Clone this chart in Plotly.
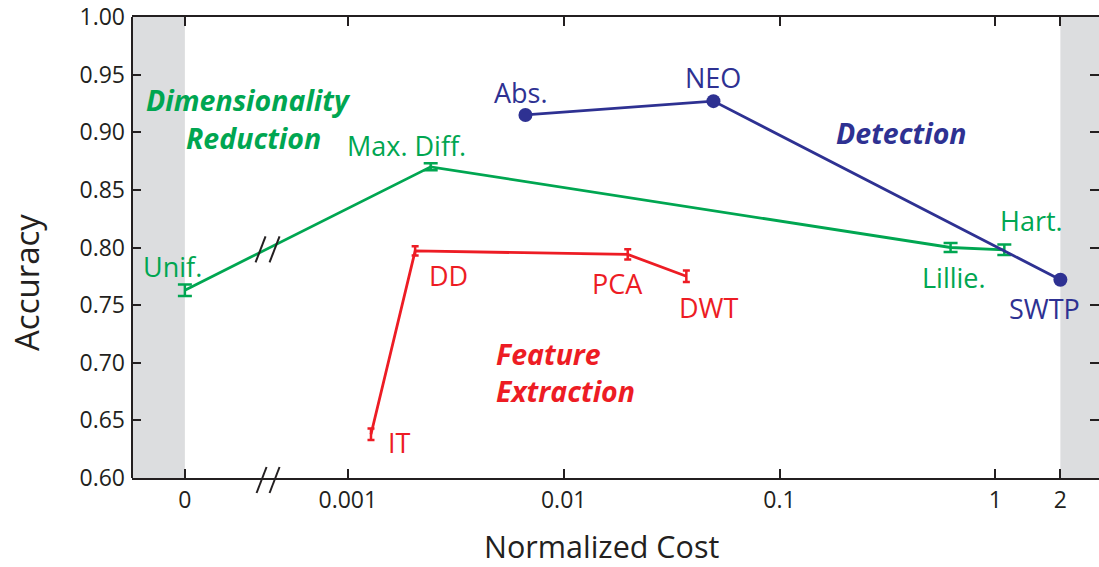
import numpy as np
import plotly.graph_objects as go

# ---------------- data ----------------
GREEN_NAMES = ["Unif.", "Max. Diff.", "Lillie.", "Hart."]
GREEN_COST = [0, 0.00242, 0.62, 1.10]
GREEN_ACC = [0.763, 0.870, 0.800, 0.798]
GREEN_ERR = [0.005, 0.003, 0.004, 0.0045]

RED_NAMES = ["IT", "DD", "PCA", "DWT"]
RED_COST = [0.00128, 0.00205, 0.0198, 0.037]
RED_ACC = [0.638, 0.797, 0.794, 0.775]
RED_ERR = [0.005, 0.004, 0.0045, 0.005]

BLUE_NAMES = ["Abs.", "NEO", "SWTP"]
BLUE_COST = [0.00665, 0.0494, 2.0]
BLUE_ACC = [0.915, 0.927, 0.772]

X_TICK_VALUES = [0, 0.001, 0.01, 0.1, 1, 2]
X_TICK_TEXT = ["0", "0.001", "0.01", "0.1", "1", "2"]
Y_TICK_VALUES = [0.60, 0.65, 0.70, 0.75, 0.80, 0.85, 0.90, 0.95, 1.00]

# ---------------- style / layout ----------------
GREEN = "#00a651"
RED = "#ed1c24"
BLUE = "#2e3192"
GRAY = "#dcdddf"
INK = "#231f20"
FONT = "Open Sans"

W, H = 1099, 567
MARGIN = dict(l=132, r=0, t=17, b=89)
PLOT_W = W - MARGIN["l"] - MARGIN["r"]
PLOT_H = H - MARGIN["t"] - MARGIN["b"]

ZERO_POS = 10 ** -3.755   # where the "0" category sits on the broken log axis
BREAK_LOG = -3.372        # log10 position of the axis break
X_RANGE_LOG = [-4.0, 0.480]
Y_RANGE = [0.60, 1.00]
PX_PER_DECADE = PLOT_W / (X_RANGE_LOG[1] - X_RANGE_LOG[0])
Y_PER_PX = (Y_RANGE[1] - Y_RANGE[0]) / PLOT_H


def pos(c):
    return ZERO_POS if c == 0 else c


def xpix(log_anchor, dx):
    """data x at a pixel offset from a log anchor"""
    return 10 ** (log_anchor + dx / PX_PER_DECADE)


# label offsets (pixels) relative to each point
GREEN_OFF = [(-12, 24), (-24, 21), (3, -30), (27, 29)]
RED_OFF = [(29, -8), (33, -25), (-10, -29), (23, -31)]
BLUE_OFF = [(-4, 22), (0, 24), (-16, -29)]

fig = go.Figure()

fig.add_trace(go.Scatter(
    x=[pos(c) for c in RED_COST], y=RED_ACC, mode="lines",
    line=dict(color=RED, width=2.8),
    error_y=dict(type="data", array=RED_ERR, color=RED, thickness=2.5, width=3.5),
    hoverinfo="skip"))

fig.add_trace(go.Scatter(
    x=[pos(c) for c in GREEN_COST], y=GREEN_ACC, mode="lines",
    line=dict(color=GREEN, width=2.8),
    error_y=dict(type="data", array=GREEN_ERR, color=GREEN, thickness=2.5, width=7),
    hoverinfo="skip"))

fig.add_trace(go.Scatter(
    x=[pos(c) for c in BLUE_COST], y=BLUE_ACC, mode="lines+markers",
    line=dict(color=BLUE, width=2.8),
    marker=dict(color=BLUE, size=14, symbol="circle"),
    hoverinfo="skip"))

annotations = []
for names, costs, accs, offs, col in [
    (GREEN_NAMES, GREEN_COST, GREEN_ACC, GREEN_OFF, GREEN),
    (RED_NAMES, RED_COST, RED_ACC, RED_OFF, RED),
    (BLUE_NAMES, BLUE_COST, BLUE_ACC, BLUE_OFF, BLUE),
]:
    for n, c, a, (dx, dy) in zip(names, costs, accs, offs):
        annotations.append(dict(
            x=np.log10(pos(c)), y=a, xref="x", yref="y", text=n, showarrow=False,
            xshift=dx, yshift=dy, xanchor="center", yanchor="middle",
            font=dict(family=FONT, size=27, color=col)))

# group labels
GROUP_LABELS = [
    ("<b><i>Dimensionality</i></b>", -3.462, 0.928, "center", GREEN),
    ("<b><i>Reduction</i></b>", -3.437, 0.8947, "center", GREEN),
    ("<b><i>Detection</i></b>", -0.747, 0.899, "left", BLUE),
    ("<b><i>Feature</i></b>", -2.325, 0.7075, "left", RED),
    ("<b><i>Extraction</i></b>", -2.325, 0.6754, "left", RED),
]
for t, xl, yv, xa, col in GROUP_LABELS:
    annotations.append(dict(
        x=xl, y=yv, xref="x", yref="y", text=t, showarrow=False,
        xanchor=xa, yanchor="middle",
        font=dict(family=FONT, size=28.5, color=col)))

# axis titles
annotations.append(dict(
    x=(27 - MARGIN["l"]) / PLOT_W, y=0.423, xref="paper", yref="paper",
    text="Accuracy", textangle=-90,
    showarrow=False, xanchor="center", yanchor="middle",
    font=dict(family=FONT, size=33, color=INK)))
annotations.append(dict(
    x=0.4855, y=-(545.5 - (H - MARGIN["b"])) / PLOT_H, xref="paper", yref="paper",
    text="Normalized Cost",
    showarrow=False, xanchor="center", yanchor="middle",
    font=dict(family=FONT, size=30.5, color=INK)))

shapes = [
    # gray bands
    dict(type="rect", xref="x", yref="paper", x0=10 ** X_RANGE_LOG[0], x1=ZERO_POS,
         y0=0, y1=1, fillcolor=GRAY, line=dict(width=0), layer="below"),
    dict(type="rect", xref="x", yref="paper", x0=2, x1=10 ** X_RANGE_LOG[1],
         y0=0, y1=1, fillcolor=GRAY, line=dict(width=0), layer="below"),
    # left frame line
    dict(type="line", xref="paper", yref="paper", x0=0, x1=0, y0=0, y1=1,
         line=dict(color=INK, width=2)),
]

# break marks on the x axis (pixel offsets converted to axis units)
for xa0, xa1 in [(-11, -1), (2, 12)]:
    shapes.append(dict(type="line", xref="x", yref="paper",
                       x0=xpix(BREAK_LOG, xa0), x1=xpix(BREAK_LOG, xa1),
                       y0=-15 / PLOT_H, y1=11 / PLOT_H,
                       line=dict(color=INK, width=2)))
# break marks on the green line
BREAK_Y = 0.7992
for xa0, xa1 in [(-12, -2), (2, 12)]:
    shapes.append(dict(type="line", xref="x", yref="y",
                       x0=xpix(BREAK_LOG, xa0), x1=xpix(BREAK_LOG, xa1),
                       y0=BREAK_Y - 14 * Y_PER_PX, y1=BREAK_Y + 12 * Y_PER_PX,
                       line=dict(color=INK, width=2)))

fig.update_layout(
    width=W, height=H,
    margin=MARGIN,
    paper_bgcolor="white", plot_bgcolor="white",
    showlegend=False,
    font=dict(family=FONT, color=INK),
    annotations=annotations, shapes=shapes,
    xaxis=dict(
        type="log", range=X_RANGE_LOG,
        tickmode="array", tickvals=[pos(v) for v in X_TICK_VALUES], ticktext=X_TICK_TEXT,
        ticks="inside", ticklen=9, tickwidth=2, tickcolor=INK,
        showline=True, linewidth=2, linecolor=INK, mirror="ticks",
        showgrid=False, zeroline=False,
        tickfont=dict(family=FONT, size=23, color=INK),
    ),
    yaxis=dict(
        range=Y_RANGE, tickmode="array", tickvals=Y_TICK_VALUES,
        ticktext=[f"{v:.2f}" for v in Y_TICK_VALUES],
        ticks="inside", ticklen=9, tickwidth=2, tickcolor=INK,
        showline=False, mirror="ticks",
        showgrid=False, zeroline=False, ticklabelstandoff=6,
        tickfont=dict(family=FONT, size=23, color=INK),
    ),
)

fig.write_html("out.html")
